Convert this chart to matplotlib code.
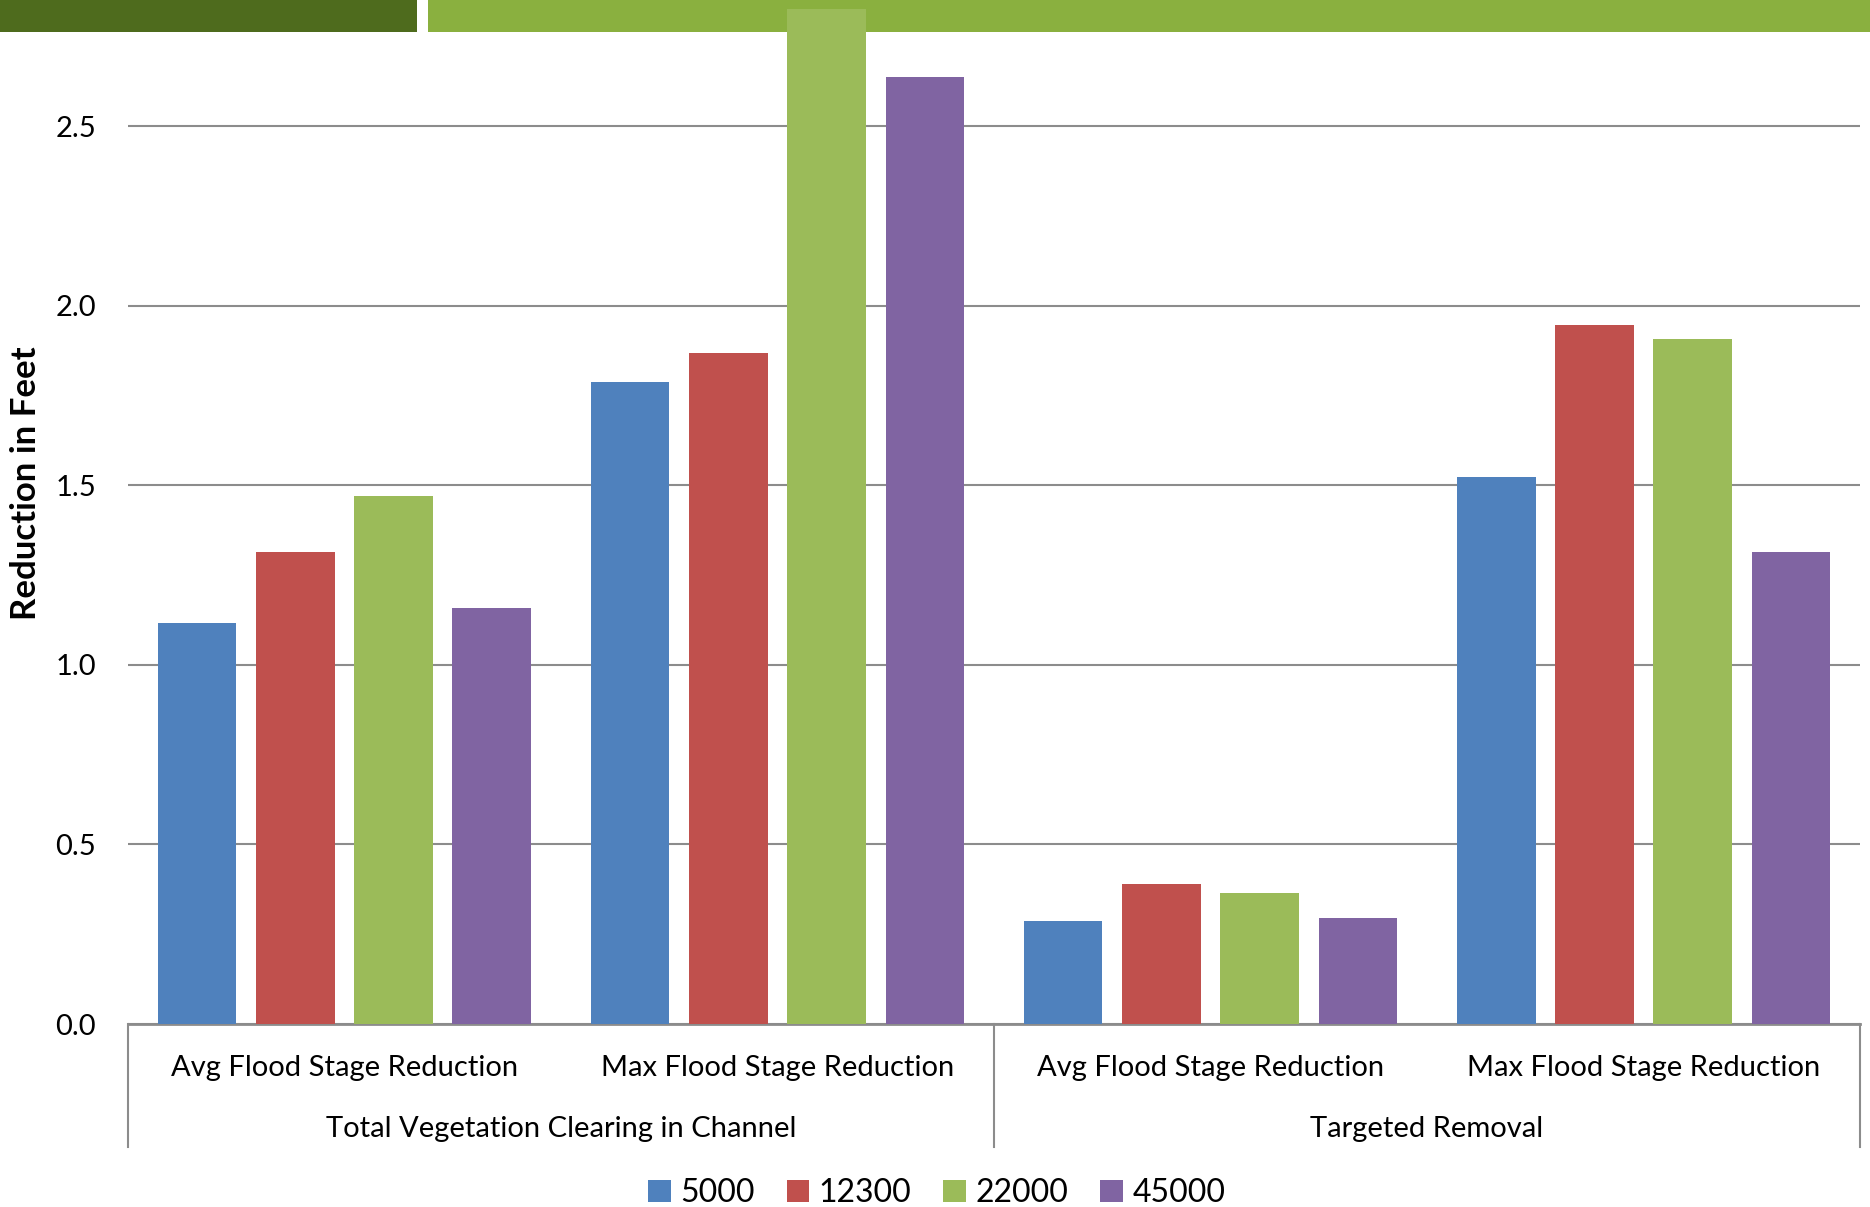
import matplotlib
matplotlib.use("Agg")
import matplotlib.pyplot as plt
from matplotlib.patches import Rectangle
import matplotlib.transforms as mtransforms
import numpy as np

plt.rcParams['font.family'] = ['Lato', 'DejaVu Sans']

# data
categories = ["Avg Flood Stage Reduction", "Max Flood Stage Reduction",
              "Avg Flood Stage Reduction", "Max Flood Stage Reduction"]
groups = ["Total Vegetation Clearing in Channel", "Targeted Removal"]
series = ["5000", "12300", "22000", "45000"]
vals_5000 = [1.117, 1.787, 0.288, 1.522]
vals_12300 = [1.313, 1.867, 0.391, 1.946]
vals_22000 = [1.469, 2.825, 0.365, 1.907]
vals_45000 = [1.157, 2.636, 0.295, 1.313]
colors = ["#4F81BD", "#C0504D", "#9BBB59", "#8064A2"]

fig = plt.figure(figsize=(18.7, 12.07), dpi=100)

# slide banner at the top
fig.patches.append(Rectangle((0, 0.9735), 0.223, 0.0265, transform=fig.transFigure,
                             facecolor="#4E6B1D", edgecolor="none", zorder=-1))
fig.patches.append(Rectangle((0.2289, 0.9735), 0.7711, 0.0265, transform=fig.transFigure,
                             facecolor="#8AB03F", edgecolor="none", zorder=-1))

ax = fig.add_axes([0.0684, 0.1516, 0.9263, 0.8484])
ax.set_facecolor("none")

x = np.arange(len(categories))
step = 0.227
width = 0.182
for i, (name, vals) in enumerate(zip(series, [vals_5000, vals_12300, vals_22000, vals_45000])):
    ax.bar(x + (i - 1.5) * step, vals, width, color=colors[i], label=name, zorder=3)

ax.set_xlim(-0.5, 3.5)
ax.set_ylim(0, 2.851)
ax.set_yticks([0, 0.5, 1.0, 1.5, 2.0, 2.5])
ax.set_yticklabels(["0.0", "0.5", "1.0", "1.5", "2.0", "2.5"])
ax.tick_params(axis='y', length=0, labelsize=21, pad=23)
ax.set_xticks([])
ax.yaxis.grid(True, color="#8C8C8C", linewidth=1.5, zorder=1)
ax.set_axisbelow(True)
for s in ["left", "right", "top"]:
    ax.spines[s].set_visible(False)
ax.spines["bottom"].set_color("#8C8C8C")
ax.spines["bottom"].set_linewidth(2)

ax.set_ylabel("Reduction in Feet", fontsize=25, fontweight="bold", va="center")
ax.yaxis.set_label_coords(-0.0589, 0.528)

# two-level category axis
trans = mtransforms.blended_transform_factory(ax.transData, ax.transAxes)
for xs in [-0.5, 1.5, 3.5]:
    ax.plot([xs, xs], [0, -0.12], transform=trans, color="#8C8C8C",
            linewidth=1.5, clip_on=False)
for xi, lab in zip(x, categories):
    ax.text(xi, -0.0425, lab, transform=trans, ha="center", va="center", fontsize=21)
ax.text(0.5, -0.103, groups[0], transform=trans, ha="center", va="center", fontsize=21)
ax.text(2.5, -0.103, groups[1], transform=trans, ha="center", va="center", fontsize=21)

ax.legend(loc="center", bbox_to_anchor=(0.467, -0.165), ncol=4, frameon=False,
          fontsize=23, handlelength=0.7, handleheight=0.7, handletextpad=0.3,
          columnspacing=1.0)

fig.savefig("out.png", dpi=100)
